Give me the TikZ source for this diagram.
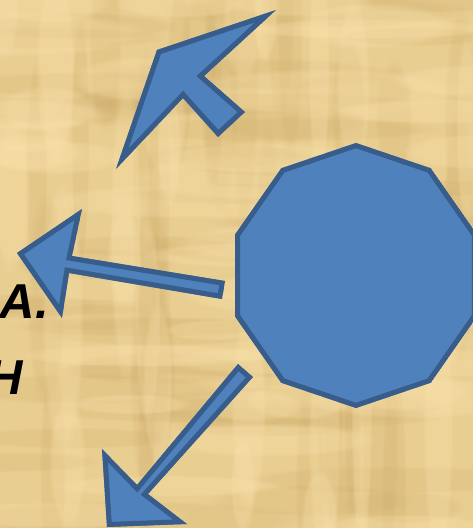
\documentclass[tikz,border=0pt]{standalone}
\usepackage{fontspec}
\setmainfont{Liberation Sans}
\usetikzlibrary{fadings}
\definecolor{paperbase}{RGB}{233,206,146}
\definecolor{paperdark}{RGB}{198,163,96}
\definecolor{paperlight}{RGB}{250,226,172}
\definecolor{shapeblue}{RGB}{79,129,189}
\definecolor{shapeline}{RGB}{56,93,138}
\newcommand{\blockfill}[1]{\begin{scope}\clip #1; \fill[bfill] #1; \draw[bline] #1;\end{scope}}
\begin{document}
\begin{tikzpicture}[x=1pt,y=-1pt,
  bfill/.style={fill=shapeblue},
  bline/.style={draw=shapeline, line width=10pt, line join=miter},
  darkstreak/.style={fill=paperdark, opacity=0.16, path fading=circle with fuzzy edge 20 percent},
  lightstreak/.style={fill=paperlight, opacity=0.3, path fading=circle with fuzzy edge 20 percent},
  cuttext/.style={font=\fontsize{49}{56}\selectfont\bfseries\itshape, text=black, inner sep=0pt, anchor=base east}]
\useasboundingbox (0,0) rectangle (473,528);
\clip (0,0) rectangle (473,528);
% papyrus background
\fill[paperbase] (0,0) rectangle (473,528);
\pgfmathsetseed{11}
\foreach \i in {1,...,45}{
  \pgfmathsetmacro\xx{rnd*473}\pgfmathsetmacro\yy{rnd*528}
  \pgfmathsetmacro\ww{60+rnd*120}\pgfmathsetmacro\hh{8+rnd*12}
  \fill[darkstreak] (\xx,\yy) ellipse ({\ww} and {\hh});}
\foreach \i in {1,...,30}{
  \pgfmathsetmacro\xx{rnd*473}\pgfmathsetmacro\yy{rnd*528}
  \pgfmathsetmacro\ww{8+rnd*12}\pgfmathsetmacro\hh{60+rnd*120}
  \fill[darkstreak] (\xx,\yy) ellipse ({\ww} and {\hh});}
\foreach \i in {1,...,40}{
  \pgfmathsetmacro\xx{rnd*473}\pgfmathsetmacro\yy{rnd*528}
  \pgfmathsetmacro\ww{50+rnd*110}\pgfmathsetmacro\hh{10+rnd*14}
  \fill[lightstreak] (\xx,\yy) ellipse ({\ww} and {\hh});}
\foreach \i in {1,...,25}{
  \pgfmathsetmacro\xx{rnd*473}\pgfmathsetmacro\yy{rnd*528}
  \pgfmathsetmacro\ww{10+rnd*14}\pgfmathsetmacro\hh{50+rnd*110}
  \fill[lightstreak] (\xx,\yy) ellipse ({\ww} and {\hh});}
% cut-off text at the left edge
\node[cuttext] (line1) at (49,318) {RA.};
\node[cuttext] (line2) at (23,394) {H};
% decagon
\blockfill{plot[samples=11,domain=90:450,variable=\t] ({356+127.2*cos(\t)},{275.5-132.5*sin(\t)}) -- cycle}
% up-left arrow
\blockfill{(276,10) -- (157,50) -- (116,169) -- (183,98) -- (218,137) -- (245,112) -- (204,76) -- cycle}
% left arrow
\blockfill{(225,281) -- (72,256) -- (82,209) -- (17,253) -- (62,318) -- (69,273) -- (222,299) -- cycle}
% down-left arrow
\blockfill{(238,364) -- (137,485) -- (102,449) -- (107,527) -- (187,524) -- (148,494) -- (253,377) -- cycle}
\end{tikzpicture}
\end{document}
